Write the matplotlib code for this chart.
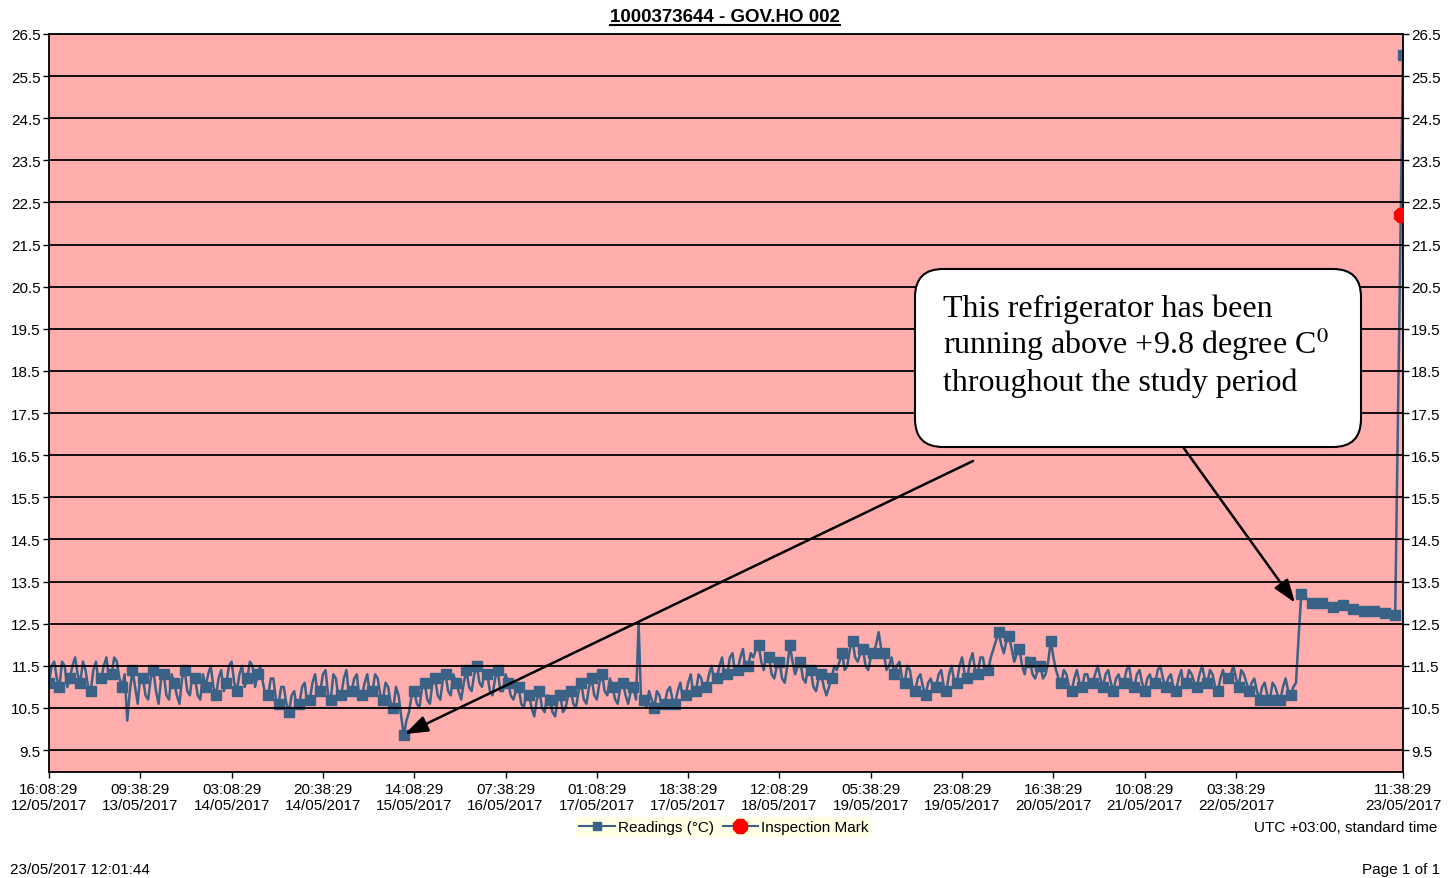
import numpy as np
import matplotlib.pyplot as plt
from matplotlib.lines import Line2D
from matplotlib.patches import FancyBboxPatch

plt.rcParams['font.family'] = ['Liberation Sans', 'DejaVu Sans']
plt.rcParams['mathtext.fontset'] = 'stix'

# readings in degC on the hour, hour 0 = 12/05/2017 16:08:29
readings = [
    11.1, 11.6, 11.0, 11.5, 11.2, 11.7, 11.1, 11.4, 10.9, 11.6,
    11.2, 11.7, 11.3, 11.6, 11.0, 10.2, 11.4, 10.6, 11.2, 10.7,
    11.4, 10.6, 11.3, 10.7, 11.1, 10.6, 11.4, 10.8, 11.2, 10.7,
    11.0, 11.5, 10.8, 11.4, 11.1, 11.6, 10.9, 11.5, 11.2, 11.5,
    11.3, 11.1, 10.8, 11.2, 10.6, 11.0, 10.4, 10.9, 10.6, 11.1,
    10.7, 11.3, 10.9, 11.4, 10.7, 11.2, 10.8, 11.4, 10.9, 11.3,
    10.8, 11.3, 10.9, 11.2, 10.7, 11.0, 10.5, 10.8, 9.85, 10.4,
    10.9, 10.5, 11.1, 10.6, 11.2, 10.7, 11.3, 10.8, 11.1, 10.7,
    11.4, 10.9, 11.5, 11.0, 11.3, 10.8, 11.4, 10.9, 11.1, 10.7,
    11.0, 10.5, 10.8, 10.3, 10.9, 10.4, 10.7, 10.3, 10.8, 10.5,
    10.9, 10.5, 11.1, 10.6, 11.2, 10.7, 11.3, 10.8, 11.0, 10.6,
    11.1, 10.6, 11.0, 12.5, 10.7, 10.9, 10.5, 10.8, 10.6, 11.0,
    10.6, 11.1, 10.8, 11.3, 10.9, 11.2, 11.0, 11.5, 11.2, 11.7,
    11.3, 11.8, 11.4, 11.9, 11.5, 11.7, 12.0, 11.4, 11.7, 11.2,
    11.6, 11.1, 12.0, 11.3, 11.6, 11.1, 11.4, 10.9, 11.3, 10.8,
    11.2, 11.4, 11.8, 11.5, 12.1, 11.6, 11.9, 11.4, 11.8, 12.3,
    11.8, 11.5, 11.3, 11.6, 11.1, 11.4, 10.9, 11.3, 10.8, 11.2,
    11.0, 11.4, 10.9, 11.5, 11.1, 11.7, 11.2, 11.8, 11.3, 11.7,
    11.4, 11.9, 12.3, 11.8, 12.2, 11.6, 11.9, 11.3, 11.6, 11.2,
    11.5, 11.3, 12.1, 11.4, 11.1, 11.3, 10.9, 11.4, 11.0, 11.3,
    11.1, 11.5, 11.0, 11.4, 10.9, 11.3, 11.1, 11.5, 11.0, 11.4,
    10.9, 11.3, 11.1, 11.5, 11.0, 11.3, 10.9, 11.4, 11.1, 11.3,
    11.0, 11.5, 11.1, 11.3, 10.9, 11.4, 11.2, 11.5, 11.0, 11.3,
    10.9, 11.2, 10.7, 11.1, 10.7, 11.0, 10.7, 11.2, 10.8, 11.1,
    13.2, 13.1, 13.0, 12.95, 13.0, 12.95, 12.9, 12.9, 12.95, 12.9,
    12.85, 12.85, 12.8, 12.8, 12.8, 12.75, 12.75, 12.7, 12.7,
]
# readings on the half hour (h + 0.5), hours 0..239
readings_half = [
    11.5, 11.2, 11.6, 11.0, 11.5, 11.3, 11.6, 11.0, 11.4, 11.1,
    11.5, 11.2, 11.7, 11.2, 11.3, 10.9, 11.0, 11.3, 10.8, 11.2,
    10.9, 11.2, 10.8, 11.3, 10.8, 11.2, 10.9, 11.3, 10.8, 11.3,
    11.3, 11.0, 11.2, 10.9, 11.5, 11.1, 11.3, 11.0, 11.6, 11.0,
    11.5, 10.8, 11.2, 10.7, 11.0, 10.6, 10.8, 10.5, 11.0, 10.6,
    11.1, 10.8, 11.3, 10.8, 11.3, 10.7, 11.2, 10.8, 11.2, 10.7,
    11.1, 10.8, 11.3, 10.8, 11.1, 10.6, 11.0, 10.3, 10.2, 10.8,
    10.6, 11.0, 10.7, 11.1, 10.8, 11.2, 10.9, 11.3, 10.9, 11.1,
    11.0, 11.3, 11.1, 11.4, 10.9, 11.2, 10.9, 11.3, 10.8, 10.9,
    10.6, 10.9, 10.5, 10.7, 10.5, 10.8, 10.4, 10.7, 10.4, 10.8,
    10.6, 10.9, 10.7, 11.0, 10.8, 11.1, 10.9, 11.2, 10.7, 11.0,
    10.8, 10.9, 10.7, 10.6, 10.5, 10.7, 10.9, 10.5, 10.9, 10.7,
    10.9, 10.7, 11.1, 10.8, 11.3, 10.9, 11.3, 11.1, 11.5, 11.2,
    11.7, 11.3, 11.7, 11.4, 11.8, 11.9, 11.6, 11.8, 11.3, 11.5,
    11.2, 11.5, 11.6, 11.5, 11.2, 11.5, 11.0, 11.2, 11.0, 11.0,
    11.5, 11.6, 11.4, 11.9, 11.7, 11.8, 11.5, 11.7, 12.0, 11.9,
    11.4, 11.7, 11.5, 11.2, 11.5, 11.0, 11.2, 11.0, 11.1, 10.9,
    11.3, 11.0, 11.3, 11.1, 11.5, 11.3, 11.6, 11.4, 11.7, 11.3,
    11.7, 12.1, 12.0, 12.1, 11.9, 11.8, 11.5, 11.7, 11.3, 11.4,
    11.2, 11.6, 11.7, 11.2, 11.4, 11.0, 11.2, 11.1, 11.3, 11.0,
    11.3, 11.2, 11.3, 11.1, 11.2, 11.0, 11.4, 11.1, 11.3, 11.1,
    11.2, 11.0, 11.4, 11.2, 11.2, 11.0, 11.2, 11.0, 11.4, 11.1,
    11.3, 11.2, 11.4, 11.0, 11.2, 11.1, 11.3, 11.2, 11.4, 11.1,
    11.1, 10.9, 11.0, 10.8, 11.1, 10.8, 11.0, 10.9, 11.0, 12.2,
]
final_hour = 259.5
final_reading = 26.0
inspection_hour = 259.1
inspection_reading = 22.2

tick_hours = [0, 17.5, 35, 52.5, 70, 87.5, 105, 122.5, 140, 157.5,
              175, 192.5, 210, 227.5, 259.5]
tick_labels = [
    "16:08:29\n12/05/2017", "09:38:29\n13/05/2017", "03:08:29\n14/05/2017",
    "20:38:29\n14/05/2017", "14:08:29\n15/05/2017", "07:38:29\n16/05/2017",
    "01:08:29\n17/05/2017", "18:38:29\n17/05/2017", "12:08:29\n18/05/2017",
    "05:38:29\n19/05/2017", "23:08:29\n19/05/2017", "16:38:29\n20/05/2017",
    "10:08:29\n21/05/2017", "03:38:29\n22/05/2017", "11:38:29\n23/05/2017",
]
y_ticks = np.arange(9.5, 26.6, 1.0)

W, H = 1455, 879
line_color = '#3a6186'

hours = np.concatenate([np.arange(len(readings)), np.arange(len(readings_half)) + 0.5, [final_hour]])
temps = np.concatenate([readings, readings_half, [final_reading]])
order = np.argsort(hours)
hours, temps = hours[order], temps[order]

fig = plt.figure(figsize=(W / 100, H / 100), dpi=100)
ax = fig.add_axes([49 / W, 1 - 773 / H, (1403 - 49) / W, (773 - 35) / H])
ax.set_facecolor('#ffadad')

# a marker every second hour, plus the last reading
marks = [i for i, h in enumerate(hours) if h % 2 == 0] + [len(hours) - 1]
ax.plot(hours, temps, color=line_color, lw=1.8, marker='s', markersize=6.5,
        markevery=marks, zorder=2)
ax.plot([inspection_hour], [inspection_reading], marker='8', color='red',
        markersize=11, zorder=4, linestyle='none')

ax.set_xlim(0, final_hour)
ax.set_ylim(8.98, 26.5)
ax.set_yticks(y_ticks)
ax.set_yticklabels([f"{v:.1f}" for v in y_ticks])
ax.set_xticks(tick_hours)
ax.set_xticklabels(tick_labels)
ax.set_axisbelow(False)
ax.yaxis.grid(True, color='black', lw=1.3)
ax.tick_params(axis='y', left=True, right=True, labelleft=True, labelright=True,
               direction='out', length=4, width=1, pad=2, labelsize=11)
ax.tick_params(axis='x', direction='out', length=4, width=1, pad=3, labelsize=11)
for s in ax.spines.values():
    s.set_color('black')
    s.set_linewidth(1.3)

# overlay in pixel coordinates for the page texts and the callout box
ov = fig.add_axes([0, 0, 1, 1])
ov.set_xlim(0, W)
ov.set_ylim(H, 0)
ov.axis('off')

title = ov.text(725, 17, "1000373644 - GOV.HO 002", ha='center', va='center',
                fontsize=13.5, fontweight='bold')
fig.canvas.draw()
bb = title.get_window_extent().transformed(ov.transData.inverted())
ov.plot([bb.x0, bb.x1], [26, 26], color='black', lw=1.5)

box = FancyBboxPatch((915, 270), 446, 178, boxstyle="round,pad=0,rounding_size=28",
                     facecolor='white', edgecolor='black', lw=1.5)
ov.add_patch(box)
serif = ['Liberation Serif', 'DejaVu Serif']
ov.text(943, 317, "This refrigerator has been", fontsize=23, family=serif, va='baseline')
ov.text(943, 354, "running above +9.8 degree C$^{0}$", fontsize=23, family=serif, va='baseline')
ov.text(943, 391, "throughout the study period", fontsize=23, family=serif, va='baseline')

arrow = dict(arrowstyle='-|>,head_length=0.7,head_width=0.25', color='black', lw=1.8,
             mutation_scale=20, shrinkA=0, shrinkB=0)
ax.annotate('', xy=(68.2, 9.88), xytext=(973, 462), textcoords=ov.transData, arrowprops=arrow)
ax.annotate('', xy=(238.8, 13.0), xytext=(1183, 448), textcoords=ov.transData, arrowprops=arrow)

handles = [
    Line2D([], [], color=line_color, marker='s', markersize=6, lw=1.5),
    Line2D([], [], color=line_color, marker='8', mfc='red', mec='red', markersize=11, lw=1.5),
]
fig.legend(handles, ['Readings (°C)', 'Inspection Mark'], loc='center',
           bbox_to_anchor=(724 / W, 1 - 828 / H), ncol=2, frameon=True,
           facecolor='#ffffdc', edgecolor='none', fancybox=False, fontsize=11,
           handlelength=2.3, handletextpad=0.2, columnspacing=0.6,
           borderpad=0.2, borderaxespad=0)

ov.text(1437, 828, "UTC +03:00, standard time", ha='right', va='center', fontsize=11)
ov.text(10, 870, "23/05/2017 12:01:44", ha='left', va='center', fontsize=11)
ov.text(1440, 870, "Page 1 of 1", ha='right', va='center', fontsize=11)

fig.savefig('out.png', dpi=100)
